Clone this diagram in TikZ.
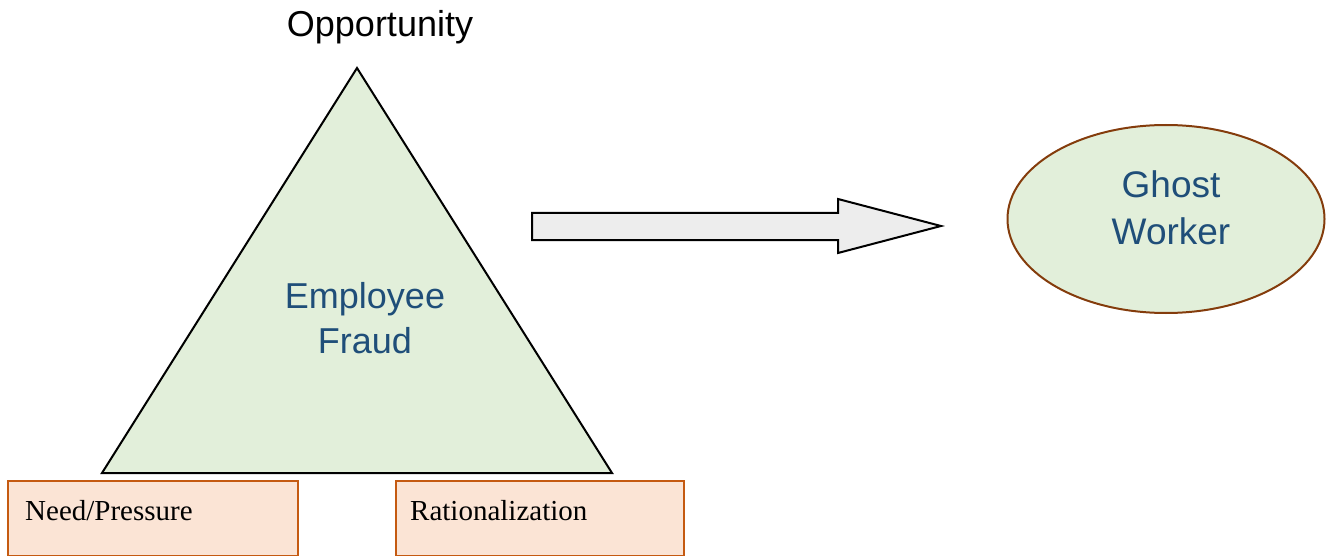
\documentclass[tikz,border=0pt]{standalone}
\usepackage{fontspec}
\setmainfont{Liberation Serif}
\newfontfamily\arialfont{Liberation Sans}
\usetikzlibrary{positioning,shapes}
\definecolor{lightgreen}{HTML}{E2EFDA}
\definecolor{lightpeach}{HTML}{FBE4D5}
\definecolor{peachborder}{HTML}{C55A11}
\definecolor{brownborder}{HTML}{843C0C}
\definecolor{arrowgray}{HTML}{EDEDED}
\definecolor{textblue}{HTML}{1F4E79}
\tikzstyle{tri_cust}=[draw=black, line width=2pt, fill=lightgreen, line join=miter]
\tikzstyle{box_cust}=[draw=peachborder, line width=2pt, fill=lightpeach, anchor=north west, minimum width=290pt, minimum height=75pt]
\tikzstyle{box_text}=[anchor=base west, inner sep=0pt, font=\fontsize{29}{34}\selectfont]
\tikzstyle{big_text}=[align=center, inner sep=0pt, font=\arialfont\fontsize{36}{45}\selectfont]
\tikzstyle{arrow_cust}=[draw=black, line width=2pt, fill=arrowgray, line join=miter]

\begin{document}
\begin{tikzpicture}[x=1pt, y=-1pt]
    \useasboundingbox (0,0) rectangle (1330,556);

% fraud triangle
        \coordinate (apex) at (357,68);
        \coordinate (left) at (102,473);
        \coordinate (right) at (612,473);
        \draw[tri_cust] (apex) -- (left) -- (right) -- cycle;
        \node[big_text, anchor=base] (opp) at (380,37) {Opportunity};
        \node[big_text, text=textblue, anchor=base] (fraud) at (365,353) {Employee\\Fraud};

        % corner boxes
        \node[box_cust] (need) at (7,480) {};
        \node[box_cust, minimum width=288pt] (rat) at (395,480) {};
        \node[box_text] (needtxt) at (25,520) {Need/Pressure};
        \node[box_text] (rattxt) at (410,520) {Rationalization};

        % block arrow
        \draw[arrow_cust] (532,213) -- (838,213) -- (838,199) -- (941,226)
            -- (838,253) -- (838,240) -- (532,240) -- cycle;

        % result
        \node[ellipse, draw=brownborder, line width=2pt, fill=lightgreen,
            minimum width=317pt, minimum height=188pt, inner sep=0pt] (ghost) at (1166,219) {};
        \node[big_text, text=textblue, anchor=base,
            font=\arialfont\fontsize{37}{47}\selectfont] (ghosttxt) at (1171,244) {Ghost\\Worker};

\end{tikzpicture}
\end{document}
